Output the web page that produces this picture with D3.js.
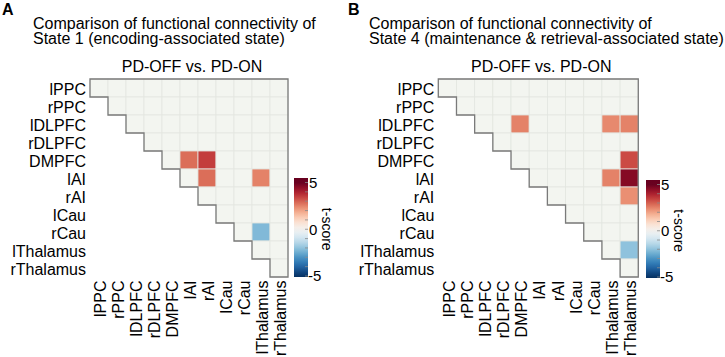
<!DOCTYPE html>
<html>
<head>
<meta charset="utf-8">
<script src="https://cdn.jsdelivr.net/npm/d3@7"></script>
<style>
  body { margin: 0; background: #fff; }
  svg { display: block; font-family: "Liberation Sans", Arial, Helvetica, sans-serif; }
</style>
</head>
<body>
<div id="chart"></div>
<script>
// Brain regions, same order on both axes
const regions = ["lPPC", "rPPC", "lDLPFC", "rDLPFC", "DMPFC", "lAI", "rAI", "lCau", "rCau", "lThalamus", "rThalamus"];

// Significant edges: [row region, column region, t-score]
const state1Edges = [
    ["DMPFC", "lAI", 2.8],
    ["DMPFC", "rAI", 3.5],
    ["lAI", "rAI", 2.8],
    ["lAI", "lThalamus", 2.5],
    ["rCau", "lThalamus", -2.2]
];
const state4Edges = [
    ["lDLPFC", "DMPFC", 2.5],
    ["lDLPFC", "lThalamus", 2.4],
    ["lDLPFC", "rThalamus", 2.5],
    ["DMPFC", "rThalamus", 3.3],
    ["lAI", "lThalamus", 2.5],
    ["lAI", "rThalamus", 4.6],
    ["rAI", "rThalamus", 2.3],
    ["lThalamus", "rThalamus", -2.0]
];

const state1Title = ["Comparison of functional connectivity of", "State 1 (encoding-associated state)"];
const state4Title = ["Comparison of functional connectivity of", "State 4 (maintenance & retrieval-associated state)"];
const contrastLabel = "PD-OFF vs. PD-ON";
const colorTicks = [-5, 0, 5];
const legendTitle = "t-score";

const svg = d3.select("#chart").append("svg")
    .attr("width", 725)
    .attr("height", 357);

// Diverging palette, blue for negative, red for positive
const color = d3.scaleDiverging(t => d3.interpolateRdBu(1 - t)).domain([-5, 0, 5]);

function drawPanel(opts, edges, title, letter) {
    const g = svg.append("g");
    const n = regions.length;

    // Panel letter
    g.append("text")
        .attr("x", opts.letterX).attr("y", 14.5)
        .attr("font-size", 16).attr("font-weight", "bold")
        .text(letter);

    // Two line title (tight leading as in the original)
    title.forEach((line, i) => {
        g.append("text")
            .attr("x", opts.titleX).attr("y", 29 + i * 14.5)
            .attr("font-size", 16)
            .text(line);
    });

    const x = d3.scaleBand().domain(regions).range([opts.x0, opts.x0 + n * opts.cellW]);
    const y = d3.scaleBand().domain(regions).range([opts.y0, opts.y0 + n * opts.cellH]);

    g.append("text")
        .attr("x", opts.x0 + n * opts.cellW / 2 + 3).attr("y", 71.5)
        .attr("text-anchor", "middle")
        .attr("font-size", 16)
        .text(contrastLabel);

    // Upper triangle incl. diagonal
    const cells = [];
    regions.forEach((r, i) => {
        regions.forEach((c, j) => {
            if (j >= i) cells.push({ row: r, col: c, t: 0 });
        });
    });
    edges.forEach(e => {
        const cell = cells.find(d => d.row === e[0] && d.col === e[1]);
        if (cell) cell.t = e[2];
    });

    g.selectAll("rect.cell")
        .data(cells)
        .enter().append("rect")
        .attr("class", "cell")
        .attr("x", d => x(d.col))
        .attr("y", d => y(d.row))
        .attr("width", x.bandwidth())
        .attr("height", y.bandwidth())
        .attr("fill", d => d.t === 0 ? "#f3f5f0" : color(d.t))
        .attr("stroke", "#e3e6e0")
        .attr("stroke-width", 0.8);

    // Outline: top, right, staircase
    const pts = [[opts.x0, opts.y0], [x.range()[1], opts.y0], [x.range()[1], y.range()[1]]];
    for (let i = n - 1; i >= 0; i--) {
        pts.push([x(regions[i]), y(regions[i]) + y.bandwidth()]);
        pts.push([x(regions[i]), y(regions[i])]);
    }
    g.append("path")
        .attr("d", d3.line()(pts) + "Z")
        .attr("fill", "none")
        .attr("stroke", "#7a7a7a")
        .attr("stroke-width", 1.3);

    // Row labels
    g.selectAll("text.rowlab")
        .data(regions)
        .enter().append("text")
        .attr("class", "rowlab")
        .attr("x", opts.x0 - 4)
        .attr("y", d => y(d) + y.bandwidth() / 2 + 7)
        .attr("text-anchor", "end")
        .attr("font-size", 16)
        .text(d => d);

    // Column labels, vertical
    g.selectAll("text.collab")
        .data(regions)
        .enter().append("text")
        .attr("class", "collab")
        .attr("transform", d => `translate(${x(d) + x.bandwidth() / 2},${y.range()[1] + 3.5}) rotate(-90)`)
        .attr("dy", "0.45em")
        .attr("text-anchor", "end")
        .attr("font-size", 16)
        .text(d => d);

    // Colour bar
    const cb = d3.scaleLinear().domain([-5, 5]).range([opts.cbBottom - 1, opts.cbTop + 4.5]);
    const gradId = "grad" + letter;
    const grad = svg.append("defs").append("linearGradient")
        .attr("id", gradId)
        .attr("x1", 0).attr("y1", 1).attr("x2", 0).attr("y2", 0);
    const vLo = cb.invert(opts.cbBottom), vHi = cb.invert(opts.cbTop);
    d3.range(0, 1.0001, 0.05).forEach(s => {
        const v = Math.max(-5, Math.min(5, vLo + s * (vHi - vLo)));
        grad.append("stop").attr("offset", s).attr("stop-color", color(v));
    });
    g.append("rect")
        .attr("x", opts.cbX).attr("y", opts.cbTop)
        .attr("width", 14).attr("height", opts.cbBottom - opts.cbTop)
        .attr("fill", `url(#${gradId})`);

    g.selectAll("line.cbtick")
        .data(d3.range(-5, 6))
        .enter().append("line")
        .attr("x1", opts.cbX + 11).attr("x2", opts.cbX + 14)
        .attr("y1", d => cb(d)).attr("y2", d => cb(d))
        .attr("stroke", "#8a8a8a").attr("stroke-width", 0.8);

    g.selectAll("text.cblab")
        .data(colorTicks)
        .enter().append("text")
        .attr("x", d => opts.cbX + (d < 0 ? 14 : 15))
        .attr("y", d => cb(d))
        .attr("dy", "0.36em")
        .attr("font-size", 15)
        .text(d => d);

    g.append("text")
        .attr("transform", `translate(${opts.cbX + 28},${cb(0)}) rotate(90)`)
        .attr("text-anchor", "middle")
        .attr("font-size", 14)
        .text(legendTitle);
}

drawPanel({ letterX: 2, titleX: 33, x0: 90, y0: 79, cellW: 18, cellH: 18, cbX: 294, cbTop: 178, cbBottom: 277 },
    state1Edges, state1Title, "A");
drawPanel({ letterX: 348, titleX: 369, x0: 438.3, y0: 79, cellW: 18.18, cellH: 18, cbX: 646, cbTop: 180, cbBottom: 278 },
    state4Edges, state4Title, "B");
</script>
</body>
</html>
